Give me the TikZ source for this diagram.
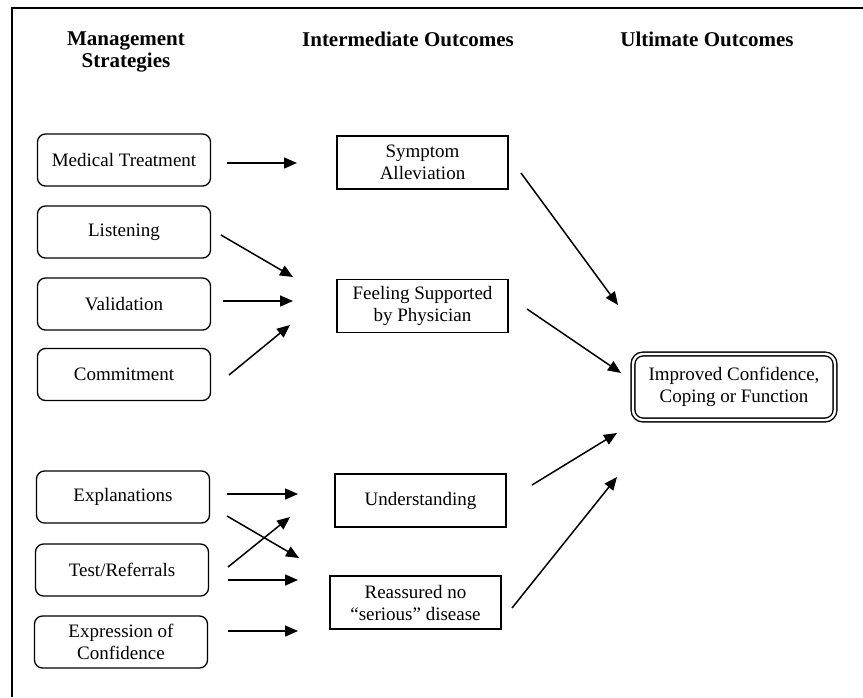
\documentclass[tikz,border=0pt]{standalone}
\usepackage{fontspec}
\setmainfont{Liberation Serif}
\usetikzlibrary{arrows.meta}
\tikzset{
  strat/.style={draw, line width=1.3pt, rounded corners=8pt, minimum width=173pt, minimum height=52pt, align=center, inner sep=0pt, font=\fontsize{19}{22}\selectfont},
  inter/.style={draw, line width=1.5pt, minimum width=171pt, minimum height=53pt, align=center, inner sep=0pt, font=\fontsize{19}{22}\selectfont},
  ultim/.style={draw, line width=1.4pt, double, double distance=2.4pt, rounded corners=10pt, minimum width=202pt, minimum height=66pt, align=center, inner sep=0pt, font=\fontsize{19}{22}\selectfont},
  header/.style={anchor=north, align=center, inner sep=0pt, font=\fontsize{21}{21.5}\selectfont\bfseries},
  arr/.style={line width=1.5pt, -{Triangle[length=13pt,width=11pt]}},
}
\begin{document}
\begin{tikzpicture}[x=1pt,y=-1pt]
\useasboundingbox (0,0) rectangle (863,697);
% frame
\draw[line width=2pt] (12,697) -- (12,8) -- (863,8);
% headers
\node[header] (h1) at (126,32) {Management\\Strategies};
\node[header] (h2) at (408,32) {Intermediate Outcomes};
\node[header] (h3) at (707,32) {Ultimate Outcomes};
% strategies
\node[strat] (med) at (124,160) {Medical Treatment};
\node[strat] (lis) at (124,232) {Listening};
\node[strat] (val) at (124,304) {Validation};
\node[strat] (com) at (124,374.5) {Commitment};
\node[strat] (exp) at (123,497) {Explanations};
\node[strat] (tst) at (122,570) {Test/Referrals};
\node[strat] (exc) at (121,642) {Expression of\\Confidence};
% intermediate
\node[inter] (sym) at (422.5,162.5) {Symptom\\Alleviation};
\node[inter] (fee) at (422.5,306) {Feeling Supported\\by Physician};
\node[inter] (und) at (420.5,500.5) {Understanding};
\node[inter] (rea) at (415.5,602.5) {Reassured no\\“serious” disease};
% ultimate
\node[ultim] (ult) at (734,387) {Improved Confidence,\\Coping or Function};
% arrow end points
\coordinate (a1s) at (227,163); \coordinate (a1e) at (297,163);
\coordinate (a2s) at (221,235); \coordinate (a2e) at (293,277);
\coordinate (a3s) at (223,301); \coordinate (a3e) at (293,301);
\coordinate (a4s) at (229,375); \coordinate (a4e) at (290,325);
\coordinate (a5s) at (521,173); \coordinate (a5e) at (618,305);
\coordinate (a6s) at (527,309); \coordinate (a6e) at (621,373);
\coordinate (a7s) at (532,485); \coordinate (a7e) at (617,433);
\coordinate (a8s) at (512,608); \coordinate (a8e) at (617,477);
\coordinate (a9s) at (227,494); \coordinate (a9e) at (298,494);
\coordinate (a10s) at (227,516); \coordinate (a10e) at (299,558);
\coordinate (a11s) at (228,567); \coordinate (a11e) at (290,517);
\coordinate (a12s) at (228,580); \coordinate (a12e) at (298,580);
\coordinate (a13s) at (228,631); \coordinate (a13e) at (298,631);
% arrows
\draw[arr] (a1s) -- (a1e);
\draw[arr] (a2s) -- (a2e);
\draw[arr] (a3s) -- (a3e);
\draw[arr] (a4s) -- (a4e);
\draw[arr] (a5s) -- (a5e);
\draw[arr] (a6s) -- (a6e);
\draw[arr] (a7s) -- (a7e);
\draw[arr] (a8s) -- (a8e);
\draw[arr] (a9s) -- (a9e);
\draw[arr] (a10s) -- (a10e);
\draw[arr] (a11s) -- (a11e);
\draw[arr] (a12s) -- (a12e);
\draw[arr] (a13s) -- (a13e);
\end{tikzpicture}
\end{document}
